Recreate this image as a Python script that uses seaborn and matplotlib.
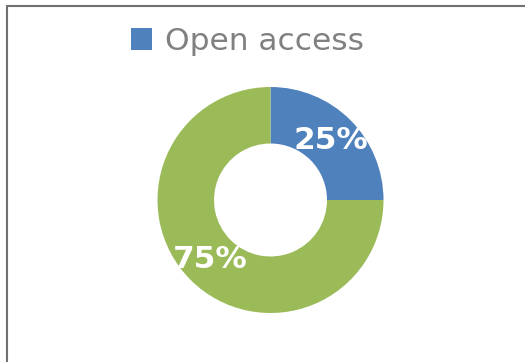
import matplotlib
matplotlib.use("Agg")
import matplotlib.pyplot as plt
from matplotlib.patches import Rectangle
import seaborn as sns

# Share of publications by access type
categories = ["Open access", "Other"]
values = [25, 75]
legend_labels = ["Open access"]

sns.set_theme(style="white")
plt.rcParams["font.family"] = ["DejaVu Sans"]

colors = ["#4F81BD", "#9BBB59"]

W, H = 525, 362
fig = plt.figure(figsize=(W / 100, H / 100), dpi=100)
fig.patch.set_facecolor("white")

# Chart frame (top and left edges visible, the rest runs off the canvas)
frame = Rectangle((6.5 / W, -0.2), 1.2, (H - 5.5) / H + 0.2,
                  transform=fig.transFigure, fill=False,
                  edgecolor="#707070", linewidth=1.5, zorder=10)
fig.add_artist(frame)

# Donut: centre (270, 200) px, outer radius 113 px
cx, cy, r = 270.5, 200, 113
ax = fig.add_axes([(cx - r) / W, (H - cy - r) / H, 2 * r / W, 2 * r / H])
wedges, texts, autotexts = ax.pie(
    values,
    colors=colors,
    startangle=90,
    counterclock=False,
    autopct=lambda p: f"{p:.0f}%",
    pctdistance=0.75,
    wedgeprops=dict(width=0.5, edgecolor="none"),
    textprops=dict(color="white", fontsize=22.5, fontweight="bold"),
)
ax.set_xlim(-1, 1)
ax.set_ylim(-1, 1)
ax.set_axis_off()

leg = fig.legend(
    handles=[wedges[0]],
    labels=legend_labels,
    loc="center left",
    bbox_to_anchor=(131 / W, 1 - 41.5 / H),
    frameon=False,
    fontsize=22.5,
    handlelength=0.68,
    handleheight=0.68,
    handletextpad=0.4,
    borderpad=0,
    borderaxespad=0,
)
for t in leg.get_texts():
    t.set_color("#808080")

fig.savefig("out.png", dpi=100, facecolor="white")
